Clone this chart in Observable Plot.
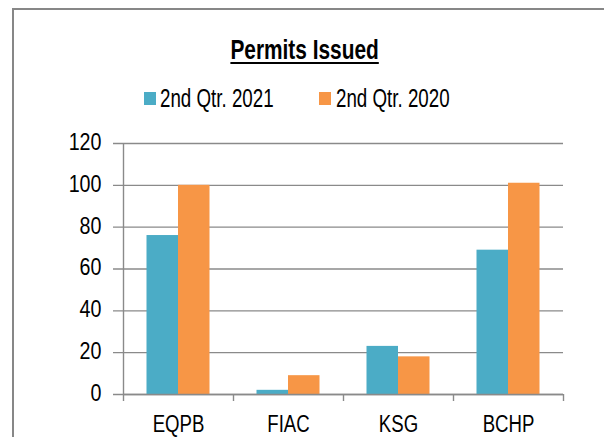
<!DOCTYPE html>
<html>
<head>
<meta charset="utf-8">
<script src="https://cdn.jsdelivr.net/npm/d3@7"></script>
<script src="https://cdn.jsdelivr.net/npm/@observablehq/plot@0.6"></script>
<style>
  html, body { margin: 0; padding: 0; background: #fff; }
  #wrap { position: relative; width: 604px; height: 437px; overflow: hidden; background: #fff;
          font-family: "Liberation Sans", Arial, sans-serif; color: #000; }
  #frame { position: absolute; left: 12px; top: 8px; right: -10px; bottom: -10px;
           border-left: 2px solid #878787; border-top: 2px solid #878787; }
  #title { position: absolute; left: 0; width: 610px; top: 36px; text-align: center;
           font-size: 28px; line-height: 28px; font-weight: bold; }
  #title span { display: inline-block; transform: scaleX(0.745); text-decoration: underline; text-underline-offset: 3px; text-decoration-thickness: 2px; }
  .sw { position: absolute; width: 12px; height: 13px; top: 92px; }
  .lt { position: absolute; top: 86px; font-size: 25px; line-height: 25px; white-space: nowrap;
        transform: scaleX(0.75); transform-origin: 0 0; }
  #chart { position: absolute; left: 0; top: 120px; }
</style>
</head>
<body>
<div id="wrap">
  <div id="frame"></div>
  <div id="title"><span>Permits Issued</span></div>
  <div id="legend"></div>
  <div id="chart"></div>
</div>
<script>
const categories = ["EQPB", "FIAC", "KSG", "BCHP"];
const series = ["2nd Qtr. 2021", "2nd Qtr. 2020"];
const values2021 = [76, 2, 23, 69];
const values2020 = [100, 9, 18, 101];
const yTicks = [0, 20, 40, 60, 80, 100, 120];
const colors = ["#4BACC6", "#F79646"];

const data = [];
categories.forEach((c, i) => {
  data.push({category: c, series: series[0], value: values2021[i]});
  data.push({category: c, series: series[1], value: values2020[i]});
});

// legend
const legend = document.getElementById("legend");
const swX = [144, 319], txX = [160, 336];
series.forEach((s, i) => {
  const sw = document.createElement("div");
  sw.className = "sw"; sw.style.left = swX[i] + "px"; sw.style.background = colors[i];
  const t = document.createElement("div");
  t.className = "lt"; t.style.left = txX[i] + "px"; t.textContent = s;
  legend.appendChild(sw); legend.appendChild(t);
});

const W = 604, H = 317, mL = 123, mR = 41, mT = 23, mB = 43;
const step = (W - mL - mR) / categories.length;
const barW = 31.5;
const gridColor = "#8a8a8a";

const chart = Plot.plot({
  width: W, height: H,
  marginLeft: mL, marginRight: mR, marginTop: mT, marginBottom: mB,
  style: {fontFamily: '"Liberation Sans", Arial, sans-serif', fontSize: "24px", color: "#000", background: "transparent", overflow: "visible"},
  x: {domain: categories, padding: 0, tickSize: 0, tickPadding: 20, label: null},
  y: {domain: [0, 120], ticks: yTicks, tickSize: 0, tickPadding: 22, label: null},
  color: {domain: series, range: colors},
  marks: [
    Plot.ruleY(yTicks, {stroke: gridColor, strokeWidth: 1.4, insetLeft: -10}),
    Plot.barY(data.filter(d => d.series === series[0]), {x: "category", y: "value", fill: "series",
      insetLeft: step / 2 - barW, insetRight: step / 2}),
    Plot.barY(data.filter(d => d.series === series[1]), {x: "category", y: "value", fill: "series",
      insetLeft: step / 2, insetRight: step / 2 - barW}),
    Plot.ruleX([categories[0]], {y1: 0, y2: 120, dx: -step / 2, stroke: gridColor, strokeWidth: 1.4}),
    Plot.ruleX(categories, {y1: 0, y2: 0, insetBottom: -7, dx: -step / 2, stroke: gridColor, strokeWidth: 1.4}),
    Plot.ruleX([categories[categories.length - 1]], {y1: 0, y2: 0, insetBottom: -7, dx: step / 2, stroke: gridColor, strokeWidth: 1.4}),
    Plot.ruleY([0], {stroke: gridColor, strokeWidth: 1.4})
  ]
});
// condense the tick labels horizontally (narrow face look)
function condense(sel, s, size, dy) {
  chart.querySelectorAll(sel).forEach(t => {
    const x = parseFloat(t.getAttribute("x")) || 0;
    const tr = t.getAttribute("transform") || "";
    t.setAttribute("transform", `${tr} translate(${x},0) scale(${s},1) translate(${-x},0)`);
    t.style.fontSize = size + "px";
    if (dy != null) t.setAttribute("y", dy);
  });
}
condense('[aria-label="y-axis tick label"] text', 0.82, 24, "0.27em");
condense('[aria-label="x-axis tick label"] text', 0.76, 24.5, null);
document.getElementById("chart").appendChild(chart);
</script>
</body>
</html>
